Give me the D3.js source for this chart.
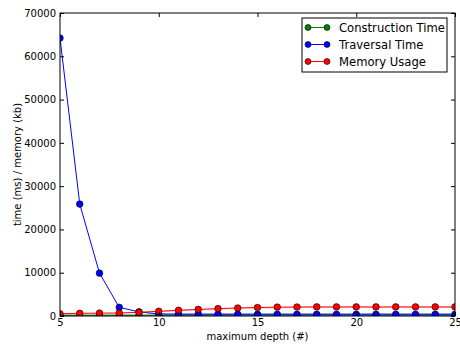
<!DOCTYPE html>
<html>
<head>
<meta charset="utf-8">
<script src="https://cdn.jsdelivr.net/npm/d3@7"></script>
<style>
  body { margin: 0; background: #fff; }
  text { font-family: "DejaVu Sans", sans-serif; }
</style>
</head>
<body>
<div id="chart"></div>
<script>
// data
const depths = d3.range(5, 26);
const construction = [150, 150, 150, 160, 160, 160, 160, 160, 160, 160, 160, 160, 160, 160, 160, 160, 160, 160, 160, 160, 160];
const traversal = [64200, 25850, 9900, 2000, 950, 450, 420, 400, 400, 400, 400, 400, 400, 400, 400, 400, 400, 400, 400, 400, 400];
const memory = [520, 620, 660, 700, 850, 1100, 1320, 1520, 1700, 1850, 1950, 2050, 2080, 2100, 2100, 2100, 2100, 2100, 2100, 2100, 2100];
// pale spread band around each series (other edge)
const constructionBand = [450, 450, 450, 450, 450, 450, 450, 450, 450, 450, 450, 450, 450, 450, 450, 450, 450, 450, 450, 450, 450];
const traversalBand = [64200, 25850, 9900, 2000, 950, 700, 700, 700, 700, 700, 700, 700, 700, 700, 700, 700, 700, 700, 700, 700, 700];
const memoryBand = [420, 500, 550, 600, 720, 900, 1050, 1250, 1450, 1650, 1750, 1800, 1850, 1850, 1850, 1850, 1850, 1850, 1850, 1850, 1850];
const xTicks = [5, 10, 15, 20, 25];
const yTicks = d3.range(0, 70001, 10000);

const series = [
  {name: "Construction Time", color: "#008000", pale: "#8fc98f", values: construction, band: constructionBand},
  {name: "Traversal Time", color: "#0000ff", pale: "#9a9aff", values: traversal, band: traversalBand},
  {name: "Memory Usage", color: "#ff0000", pale: "#ff9a9a", values: memory, band: memoryBand}
];

const width = 460, height = 345;
const margin = {top: 13, right: 5, bottom: 29, left: 60};

const svg = d3.select("#chart").append("svg")
    .attr("width", width)
    .attr("height", height);

const x = d3.scaleLinear().domain([5, 25]).range([margin.left, width - margin.right]);
const y = d3.scaleLinear().domain([0, 70000]).range([height - margin.bottom, margin.top]);

svg.append("clipPath").attr("id", "plot")
  .append("rect")
    .attr("x", x(5)).attr("y", y(70000))
    .attr("width", x(25) - x(5)).attr("height", y(0) - y(70000));

const plot = svg.append("g").attr("clip-path", "url(#plot)");

series.forEach(s => {
  const area = d3.area()
      .x((d, i) => x(depths[i]))
      .y0((d, i) => y(s.band[i]))
      .y1(d => y(d));
  plot.append("path")
      .attr("d", area(s.values))
      .attr("fill", s.pale)
      .attr("opacity", 0.6);
});

series.forEach(s => {
  const line = d3.line().x((d, i) => x(depths[i])).y(d => y(d));
  plot.append("path")
      .attr("d", line(s.values))
      .attr("fill", "none")
      .attr("stroke", s.color)
      .attr("stroke-width", 1);
  plot.selectAll(null)
      .data(s.values)
      .enter()
      .append("circle")
      .attr("cx", (d, i) => x(depths[i]))
      .attr("cy", d => y(d))
      .attr("r", 3.3)
      .attr("fill", s.color)
      .attr("stroke", "#000")
      .attr("stroke-width", 0.6);
});

// axes, ticks pointing inward on all four sides
const xAxis = d3.axisBottom(x).tickValues(xTicks).tickSize(-4).tickPadding(3).tickFormat(d3.format("d"));
const yAxis = d3.axisLeft(y).tickValues(yTicks).tickSize(-4).tickPadding(4).tickFormat(d3.format("d"));

const gx = svg.append("g")
    .attr("transform", `translate(0,${y(0)})`)
    .call(xAxis);
const gy = svg.append("g")
    .attr("transform", `translate(${x(5)},0)`)
    .call(yAxis);
const gx2 = svg.append("g")
    .attr("transform", `translate(0,${y(70000)})`)
    .call(d3.axisTop(x).tickValues(xTicks).tickSize(-4).tickFormat(""));
const gy2 = svg.append("g")
    .attr("transform", `translate(${x(25)},0)`)
    .call(d3.axisRight(y).tickValues(yTicks).tickSize(-4).tickFormat(""));

[gx, gy, gx2, gy2].forEach(g => {
  g.select(".domain").remove();
  g.selectAll(".tick line").attr("stroke", "#000");
  g.selectAll("text").attr("font-size", 10).attr("fill", "#000")
      .attr("font-family", "DejaVu Sans, sans-serif");
});

svg.append("rect")
    .attr("x", x(5)).attr("y", y(70000))
    .attr("width", x(25) - x(5)).attr("height", y(0) - y(70000))
    .attr("fill", "none")
    .attr("stroke", "#000")
    .attr("stroke-width", 1);

svg.append("text")
    .attr("x", (x(5) + x(25)) / 2)
    .attr("y", 340)
    .attr("text-anchor", "middle")
    .attr("font-size", 10)
    .text("maximum depth (#)");

svg.append("text")
    .attr("transform", `translate(21,${(y(0) + y(70000)) / 2}) rotate(-90)`)
    .attr("text-anchor", "middle")
    .attr("font-size", 10)
    .text("time (ms) / memory (kb)");

// legend
const legend = svg.append("g");
legend.append("rect")
    .attr("x", 302).attr("y", 18)
    .attr("width", 145).attr("height", 54)
    .attr("fill", "#fff")
    .attr("stroke", "#000")
    .attr("stroke-width", 1);

series.forEach((s, i) => {
  const ly = 27.5 + i * 17;
  legend.append("line")
      .attr("x1", 308).attr("x2", 327)
      .attr("y1", ly).attr("y2", ly)
      .attr("stroke", s.color);
  [308, 327].forEach(cx => legend.append("circle")
      .attr("cx", cx).attr("cy", ly).attr("r", 3)
      .attr("fill", s.color).attr("stroke", "#000").attr("stroke-width", 0.6));
  legend.append("text")
      .attr("x", 339).attr("y", ly + 4.5)
      .attr("font-size", 11.6)
      .text(s.name);
});
</script>
</body>
</html>
